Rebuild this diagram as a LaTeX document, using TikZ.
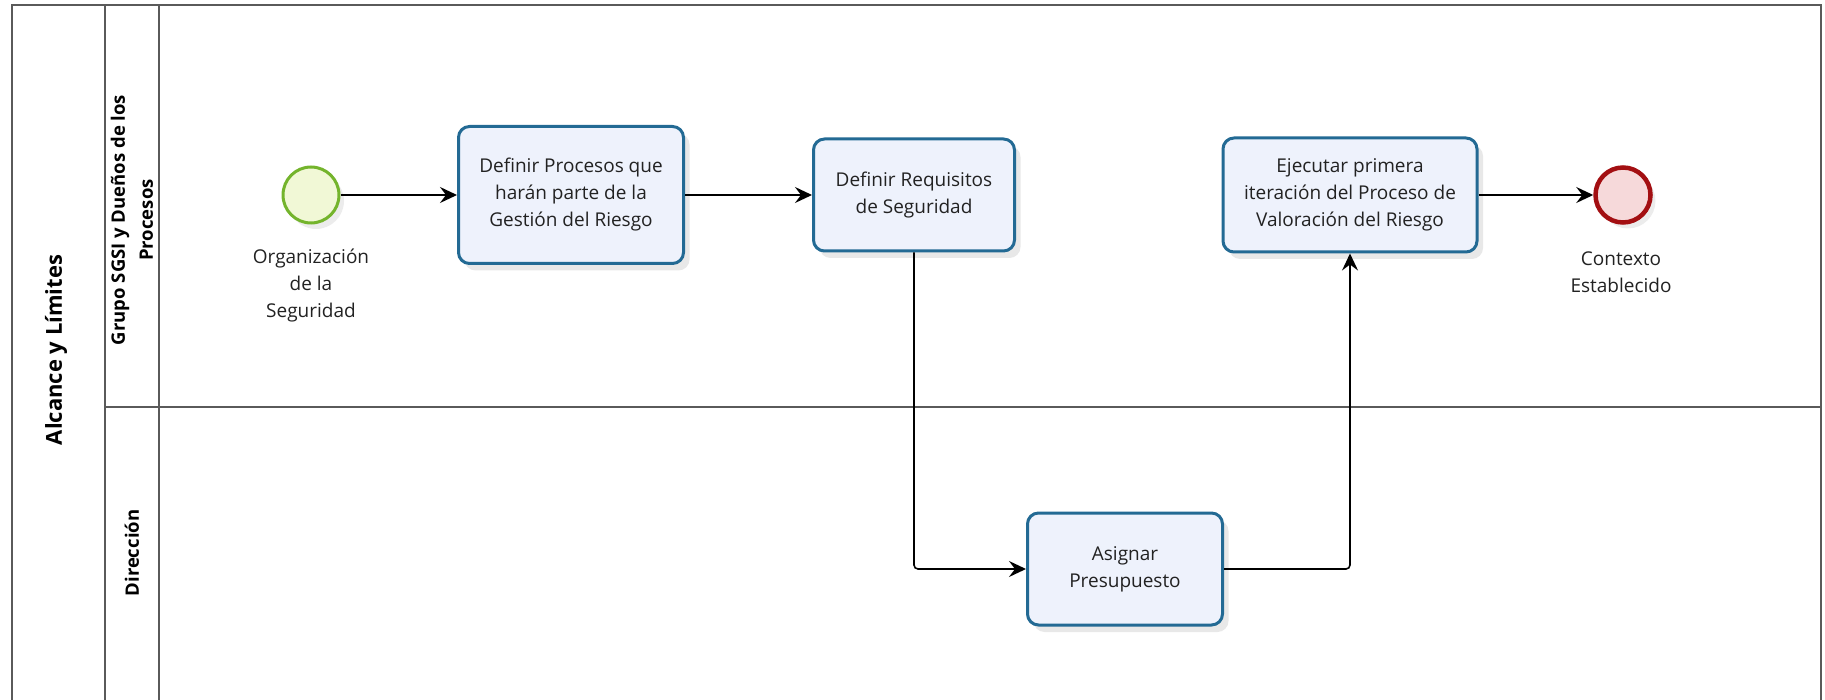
\documentclass[tikz,border=0pt]{standalone}
\usepackage{fontspec}
\setmainfont{Open Sans}
\usepackage{tikz}
\usetikzlibrary{arrows.meta}
\usetikzlibrary{shadows}
\usetikzlibrary{positioning}

\definecolor{taskline}{HTML}{236A94}
\definecolor{taskfill}{HTML}{EEF2FC}
\definecolor{startline}{HTML}{74B42C}
\definecolor{startfill}{HTML}{F1F8D6}
\definecolor{endline}{HTML}{A30F12}
\definecolor{endfill}{HTML}{F6D9DA}
\definecolor{laneline}{HTML}{5A5A5A}
\definecolor{txt}{HTML}{222222}

\begin{document}
\begin{tikzpicture}[x=1pt,y=-1pt,
        task/.style={draw=taskline, line width=3pt, rounded corners=11pt, fill=taskfill,
                align=center, text=txt, font=\fontsize{19}{27}\selectfont, inner sep=0pt,
                drop shadow={shadow xshift=6pt, shadow yshift=-7pt, opacity=.18}},
        startev/.style={circle, draw=startline, line width=3pt, fill=startfill,
                minimum size=56pt, inner sep=0pt,
                drop shadow={shadow xshift=5pt, shadow yshift=-6pt, opacity=.15}},
        endev/.style={circle, draw=endline, line width=4.5pt, fill=endfill,
                minimum size=55pt, inner sep=0pt,
                drop shadow={shadow xshift=5pt, shadow yshift=-6pt, opacity=.15}},
        evlabel/.style={align=center, text=txt, font=\fontsize{19}{27}\selectfont},
        lanelabel/.style={rotate=90, align=center, font=\fontsize{18.5}{28}\selectfont\bfseries},
        flow/.style={-{Stealth[length=17pt,width=16pt,inset=6pt]}, line width=1.6pt, rounded corners=4pt}]
        	\useasboundingbox (0,0) rectangle (1825,700);
        	% pool and lanes
        	\draw[laneline, line width=1.4pt] (12,710) -- (12,5) -- (1821,5) -- (1821,710);
        	\foreach \x in {105,159} {
        		\draw[laneline, line width=1.4pt] (\x,5) -- (\x,710);
        	}
        	\draw[laneline, line width=1.4pt] (105,407) -- (1821,407);
        	\node[lanelabel, font=\fontsize{22}{28}\selectfont\bfseries] (pool) at (56,350) {Alcance y Límites};
        	\node[lanelabel] (grupo) at (132,220) {Grupo SGSI y Dueños de los\\Procesos};
        	\node[lanelabel] (direccion) at (132,553) {Dirección};

        	\node[startev] (inicio) at (311,195) {};
        	\node[evlabel] (inicio-txt) at (311,286) {Organización\\de la\\Seguridad};
        	\node[task, minimum width=225pt, minimum height=137pt] (procesos) at (571,195)
        		{Definir Procesos que\\harán parte de la\\Gestión del Riesgo};
        	\node[task, minimum width=201pt, minimum height=112pt] (requisitos) at (914,195)
        		{Definir Requisitos\\de Seguridad};
        	\node[task, minimum width=254pt, minimum height=114pt] (ejecutar) at (1350,195)
        		{Ejecutar primera\\iteración del Proceso de\\Valoración del Riesgo};
        	\node[endev] (fin) at (1623,195) {};
        	\node[evlabel] (fin-txt) at (1621,272) {Contexto\\Establecido};
        	\node[task, minimum width=195pt, minimum height=112pt] (presupuesto) at (1125,569)
        		{Asignar\\Presupuesto};

        	\draw[flow] (inicio) -- (procesos);
        	\draw[flow] (procesos) -- (requisitos);
        	\draw[flow] (requisitos.south) |- (presupuesto.west);
        	\draw[flow] (presupuesto.east) -| (ejecutar.south);
        	\draw[flow] (ejecutar) -- (fin);
        \end{tikzpicture}
\end{document}
